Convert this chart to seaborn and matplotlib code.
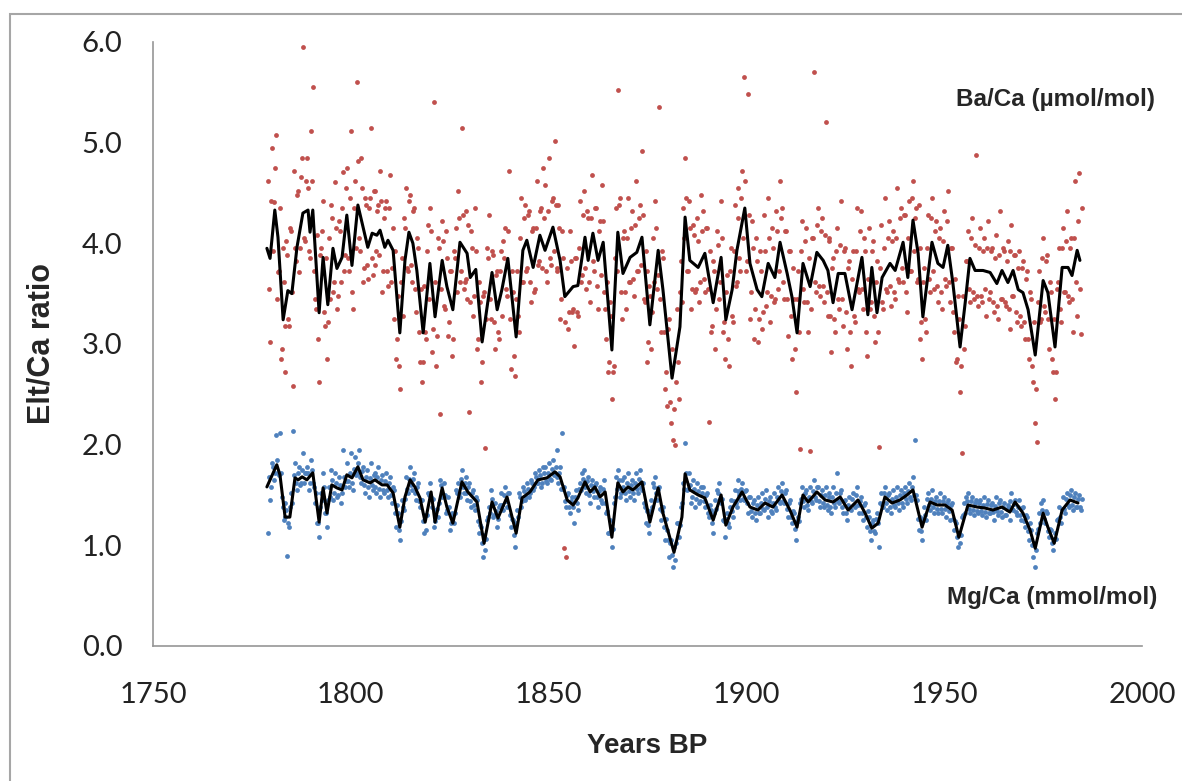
import numpy as np
import pandas as pd
import matplotlib
matplotlib.use("Agg")
import matplotlib.pyplot as plt
from matplotlib.patches import Rectangle
import seaborn as sns

# raw Ba/Ca samples (umol/mol), two per year from 1779.0
ba_raw = [
    4.62, 3.02, 4.95, 4.41, 5.08, 3.71, 4.35, 2.95, 3.62, 2.72, 3.88, 3.18, 4.12, 2.58, 3.95, 4.48, 3.71, 4.66, 5.95, 4.02,
    4.85, 3.92, 5.12, 5.55, 3.45, 4.08, 2.62, 3.95, 4.42, 3.18, 2.85, 4.05, 4.38, 3.52, 4.61, 3.35, 4.22, 3.62, 4.71, 3.88,
    4.75, 3.72, 5.12, 3.35, 4.62, 5.60, 4.05, 4.85, 3.62, 4.45, 3.78, 4.35, 5.15, 3.68, 4.52, 3.92, 4.38, 4.72, 3.52, 4.25,
    4.42, 3.58, 4.68, 3.75, 3.25, 2.85, 3.48, 2.55, 3.85, 4.25, 4.55, 3.72, 4.48, 3.62, 4.35, 3.32, 3.95, 2.82, 2.62, 3.58,
    3.05, 4.18, 4.35, 2.92, 5.40, 2.78, 4.05, 2.30, 4.22, 3.38, 4.12, 3.08, 3.72, 2.88, 3.92, 4.15, 4.52, 3.62, 5.15, 3.55,
    4.32, 3.45, 2.32, 4.12, 3.28, 4.35, 2.95, 3.62, 2.62, 3.48, 1.97, 3.95, 4.28, 3.25, 3.88, 2.95, 3.72, 3.05, 3.92, 4.02,
    4.15, 3.48, 4.72, 2.75, 3.52, 2.68, 3.72, 3.12, 4.45, 3.62, 4.38, 3.75, 4.32, 3.42, 4.15, 3.55, 4.62, 3.82, 4.35, 4.75,
    4.58, 3.62, 4.85, 3.78, 4.45, 5.02, 3.72, 4.38, 3.25, 4.12, 0.97, 0.88, 3.15, 4.12, 3.32, 2.98, 3.85, 3.28, 4.42, 3.68,
    4.52, 3.55, 4.25, 3.42, 4.68, 3.72, 4.35, 3.35, 4.22, 4.58, 3.52, 3.05, 2.72, 3.42, 2.45, 2.78, 4.35, 5.52, 4.45, 3.25,
    4.12, 3.35, 4.45, 3.62, 4.32, 3.48, 4.62, 3.72, 4.38, 4.92, 3.45, 3.92, 2.82, 3.58, 2.95, 4.05, 4.42, 3.55, 5.35, 3.12,
    3.85, 2.55, 2.38, 3.25, 2.21, 2.05, 2.00, 3.35, 2.45, 3.82, 4.35, 4.85, 3.72, 4.42, 3.35, 4.18, 3.52, 4.25, 3.42, 4.48,
    4.32, 3.52, 4.15, 2.22, 3.12, 3.82, 2.95, 4.12, 3.45, 4.42, 3.12, 2.85, 3.68, 2.78, 3.95, 3.22, 4.38, 3.62, 4.55, 3.72,
    4.72, 5.65, 3.72, 5.48, 3.25, 4.22, 3.05, 4.05, 3.02, 3.92, 3.15, 4.28, 3.38, 4.45, 3.22, 4.15, 3.42, 4.32, 3.55, 4.62,
    4.35, 3.45, 4.12, 3.08, 3.92, 2.85, 3.45, 2.52, 3.72, 1.96, 4.22, 3.42, 4.15, 3.12, 1.94, 4.05, 5.70, 3.52, 4.35, 3.48,
    4.25, 3.42, 5.20, 3.28, 4.05, 2.92, 3.85, 3.12, 4.15, 3.35, 4.42, 3.18, 3.95, 2.95, 3.82, 2.78, 3.92, 3.22, 4.35, 3.52,
    4.32, 3.35, 3.92, 2.88, 4.15, 3.42, 4.02, 3.02, 3.82, 1.98, 4.18, 3.35, 4.45, 3.52, 4.22, 3.38, 4.12, 3.45, 4.55, 3.62,
    4.35, 3.62, 4.28, 3.32, 4.42, 3.72, 4.62, 4.25, 3.62, 4.38, 3.05, 2.85, 3.75, 3.12, 4.28, 3.52, 4.45, 3.55, 4.22, 3.42,
    4.15, 3.35, 4.32, 3.58, 4.52, 3.42, 3.95, 3.12, 2.82, 3.48, 2.52, 1.92, 2.95, 3.82, 4.12, 3.42, 4.25, 3.45, 4.88, 3.38,
    4.15, 3.42, 4.05, 3.28, 4.22, 3.52, 3.95, 3.32, 4.08, 3.25, 4.32, 3.45, 3.92, 3.38, 4.02, 3.15, 4.18, 3.48, 3.88, 3.22,
    3.92, 3.18, 3.82, 3.05, 3.72, 2.85, 3.45, 2.62, 2.21, 2.03, 3.72, 3.25, 4.05, 3.32, 3.88, 2.95, 3.52, 2.72, 2.45, 3.55,
    3.95, 3.22, 4.15, 3.52, 4.32, 3.42, 4.05, 3.12, 4.62, 3.28, 4.70, 3.10,
]
# second Ba/Ca run, offset by a quarter year
ba_raw_b = [
    3.55, 4.42, 3.92, 4.75, 3.45, 3.72, 2.85, 3.95, 3.18, 4.02, 3.25, 4.15, 3.52, 4.72, 3.82, 4.52, 3.95, 4.85, 4.05, 4.62,
    4.55, 3.85, 4.62, 3.72, 3.35, 3.05, 3.88, 4.12, 3.32, 3.85, 3.22, 3.45, 4.25, 3.62, 4.15, 3.48, 4.12, 4.35, 3.72, 4.55,
    3.85, 4.45, 3.52, 4.35, 3.95, 4.82, 3.92, 4.55, 3.75, 4.38, 3.65, 4.45, 3.85, 4.52, 3.78, 4.32, 3.88, 4.42, 3.72, 4.35,
    3.72, 4.35, 3.62, 4.15, 3.92, 3.05, 2.78, 3.62, 3.28, 4.15, 3.75, 4.42, 3.78, 4.32, 3.55, 4.05, 3.12, 3.55, 2.82, 3.12,
    3.92, 3.45, 4.12, 3.15, 3.62, 3.08, 3.95, 3.55, 4.02, 3.35, 3.85, 3.22, 3.72, 3.05, 3.85, 3.52, 4.25, 3.72, 4.28, 3.62,
    3.65, 4.18, 3.42, 3.95, 3.48, 3.92, 3.05, 3.42, 2.82, 3.52, 3.25, 3.85, 3.45, 3.92, 3.22, 3.68, 3.12, 3.72, 3.28, 3.85,
    3.55, 4.12, 3.25, 3.72, 2.88, 3.45, 3.28, 4.05, 3.62, 4.25, 3.72, 4.28, 3.62, 4.12, 3.52, 4.15, 3.78, 4.32, 3.75, 4.25,
    3.72, 4.32, 3.85, 4.42, 3.92, 4.38, 3.75, 4.15, 3.45, 3.85, 3.22, 3.75, 3.32, 3.82, 3.35, 3.85, 3.32, 3.95, 3.62, 4.28,
    3.75, 4.32, 3.62, 4.25, 3.82, 4.35, 3.58, 4.12, 3.68, 4.22, 3.35, 3.62, 2.82, 3.28, 2.72, 3.85, 3.72, 4.38, 3.52, 4.05,
    3.52, 4.05, 3.62, 4.15, 3.65, 4.18, 3.72, 4.25, 3.78, 4.28, 3.42, 3.72, 3.02, 3.48, 3.32, 3.62, 4.15, 3.68, 3.45, 3.92,
    3.12, 2.72, 3.15, 2.42, 2.95, 2.35, 2.62, 2.82, 3.52, 3.42, 4.05, 4.45, 3.72, 4.15, 3.55, 4.08, 3.55, 4.02, 3.62, 4.12,
    3.65, 4.15, 3.55, 3.92, 3.18, 3.72, 3.35, 3.98, 3.62, 4.05, 3.22, 3.52, 3.05, 3.72, 3.28, 3.92, 3.58, 4.25, 3.85, 4.45,
    4.05, 4.62, 3.82, 4.28, 3.52, 3.95, 3.35, 3.82, 3.25, 3.72, 3.32, 3.92, 3.52, 4.05, 3.48, 3.95, 3.45, 4.12, 3.72, 4.25,
    3.62, 4.12, 3.45, 3.92, 3.28, 3.75, 2.95, 3.45, 3.12, 3.92, 3.55, 4.02, 3.42, 3.85, 3.35, 4.05, 3.62, 4.18, 3.58, 4.12,
    3.58, 4.08, 3.52, 4.02, 3.28, 3.75, 3.25, 3.92, 3.45, 3.98, 3.45, 3.92, 3.32, 3.75, 3.12, 3.65, 3.28, 3.92, 3.55, 4.12,
    3.55, 4.05, 3.12, 3.65, 3.35, 3.92, 3.28, 3.62, 3.12, 3.75, 3.42, 3.95, 3.55, 4.05, 3.58, 4.02, 3.52, 4.05, 3.65, 4.25,
    3.75, 4.28, 3.52, 4.05, 3.72, 4.45, 3.92, 4.35, 3.65, 3.95, 3.22, 3.62, 3.25, 3.95, 3.65, 4.25, 3.72, 4.12, 3.58, 4.05,
    3.52, 4.02, 3.65, 4.22, 3.62, 3.95, 3.32, 3.65, 2.85, 3.25, 2.78, 3.48, 3.18, 3.82, 3.55, 4.05, 3.52, 3.98, 3.48, 3.95,
    3.48, 3.92, 3.55, 3.95, 3.45, 3.92, 3.42, 3.85, 3.38, 3.88, 3.45, 3.95, 3.42, 3.82, 3.35, 3.92, 3.48, 3.88, 3.32, 3.75,
    3.28, 3.75, 3.22, 3.65, 3.05, 3.52, 2.78, 3.22, 2.55, 3.42, 3.22, 3.85, 3.38, 3.82, 3.25, 3.62, 2.85, 3.25, 2.72, 3.62,
    3.35, 3.95, 3.52, 4.02, 3.48, 3.95, 3.45, 4.05, 3.62, 4.22, 3.55, 4.35,
]

# raw Mg/Ca samples (mmol/mol), same sampling
mg_raw = [
    1.12, 1.45, 1.82, 1.65, 2.10, 1.72, 2.12, 1.48, 1.25, 1.42, 0.89, 1.18, 1.52, 2.14, 1.82, 1.55, 1.78, 1.62, 1.92, 1.72,
    1.78, 1.55, 1.85, 1.62, 1.42, 1.22, 1.08, 1.52, 1.72, 1.32, 1.18, 1.58, 1.75, 1.45, 1.72, 1.48, 1.68, 1.42, 1.95, 1.58,
    1.82, 1.58, 1.92, 1.55, 1.88, 1.72, 1.95, 1.62, 1.78, 1.52, 1.75, 1.48, 1.82, 1.55, 1.72, 1.52, 1.78, 1.48, 1.70, 1.52,
    1.72, 1.48, 1.68, 1.42, 1.55, 1.18, 1.32, 1.05, 1.45, 1.35, 1.68, 1.52, 1.78, 1.55, 1.72, 1.45, 1.62, 1.38, 1.45, 1.12,
    1.15, 1.52, 1.62, 1.38, 1.18, 1.35, 1.28, 1.65, 1.48, 1.62, 1.32, 1.48, 1.15, 1.32, 1.22, 1.55, 1.62, 1.48, 1.75, 1.52,
    1.68, 1.45, 1.62, 1.38, 1.55, 1.35, 1.45, 1.12, 1.18, 0.88, 0.95, 1.25, 1.38, 1.55, 1.28, 1.42, 1.18, 1.38, 1.52, 1.35,
    1.58, 1.38, 1.52, 1.18, 1.25, 0.98, 1.35, 1.52, 1.38, 1.58, 1.45, 1.62, 1.48, 1.65, 1.55, 1.72, 1.62, 1.75, 1.58, 1.78,
    1.78, 1.62, 1.82, 1.65, 1.85, 1.72, 1.95, 1.62, 1.78, 2.12, 1.58, 1.38, 1.52, 1.32, 1.48, 1.22, 1.55, 1.35, 1.62, 1.72,
    1.75, 1.52, 1.68, 1.42, 1.65, 1.48, 1.62, 1.38, 1.58, 1.42, 1.65, 1.32, 1.12, 1.25, 0.98, 1.42, 1.68, 1.75, 1.48, 1.65,
    1.68, 1.45, 1.72, 1.48, 1.65, 1.45, 1.72, 1.52, 1.75, 1.55, 1.42, 1.22, 1.35, 1.12, 1.45, 1.62, 1.68, 1.45, 1.58, 1.25,
    1.38, 1.05, 1.15, 0.88, 1.05, 0.78, 0.85, 1.22, 1.08, 1.38, 1.62, 2.02, 1.55, 1.72, 1.42, 1.65, 1.38, 1.62, 1.42, 1.58,
    1.58, 1.38, 1.52, 1.28, 1.35, 1.12, 1.45, 1.55, 1.62, 1.42, 1.25, 1.08, 1.32, 1.18, 1.45, 1.28, 1.55, 1.38, 1.65, 1.45,
    1.62, 1.45, 1.55, 1.32, 1.48, 1.28, 1.45, 1.25, 1.48, 1.32, 1.52, 1.35, 1.55, 1.28, 1.48, 1.32, 1.52, 1.35, 1.58, 1.42,
    1.62, 1.42, 1.55, 1.28, 1.45, 1.22, 1.32, 1.05, 1.28, 1.42, 1.58, 1.38, 1.55, 1.35, 1.58, 1.42, 1.65, 1.45, 1.58, 1.38,
    1.55, 1.38, 1.58, 1.35, 1.52, 1.32, 1.58, 1.38, 1.72, 1.42, 1.55, 1.32, 1.45, 1.25, 1.48, 1.35, 1.52, 1.38, 1.58, 1.32,
    1.48, 1.25, 1.42, 1.18, 1.28, 1.05, 1.25, 1.12, 1.32, 0.98, 1.52, 1.38, 1.58, 1.35, 1.52, 1.32, 1.55, 1.38, 1.58, 1.35,
    1.55, 1.38, 1.58, 1.42, 1.62, 1.45, 1.68, 2.05, 1.45, 1.15, 1.28, 1.05, 1.38, 1.25, 1.52, 1.35, 1.55, 1.32, 1.48, 1.32,
    1.52, 1.32, 1.48, 1.28, 1.45, 1.25, 1.42, 1.15, 1.22, 0.98, 1.02, 1.28, 1.42, 1.48, 1.52, 1.32, 1.48, 1.30, 1.45, 1.32,
    1.45, 1.30, 1.48, 1.28, 1.45, 1.32, 1.42, 1.25, 1.48, 1.30, 1.45, 1.28, 1.42, 1.30, 1.40, 1.25, 1.52, 1.35, 1.45, 1.30,
    1.45, 1.25, 1.38, 1.18, 1.28, 1.05, 1.15, 0.88, 0.78, 1.12, 1.32, 1.42, 1.45, 1.22, 1.32, 1.08, 1.15, 0.95, 1.12, 1.25,
    1.38, 1.22, 1.48, 1.32, 1.52, 1.38, 1.55, 1.35, 1.52, 1.38, 1.50, 1.35,
]
# second Mg/Ca run, offset by a quarter year
mg_raw_b = [
    1.68, 1.58, 1.78, 1.72, 1.85, 1.70, 1.72, 1.38, 1.28, 1.35, 1.22, 1.38, 1.42, 1.70, 1.62, 1.72, 1.60, 1.75, 1.62, 1.72,
    1.72, 1.62, 1.75, 1.58, 1.52, 1.22, 1.38, 1.45, 1.58, 1.32, 1.45, 1.48, 1.65, 1.52, 1.62, 1.50, 1.60, 1.52, 1.68, 1.64,
    1.64, 1.72, 1.62, 1.76, 1.70, 1.82, 1.68, 1.74, 1.60, 1.68, 1.58, 1.67, 1.60, 1.70, 1.58, 1.68, 1.56, 1.65, 1.55, 1.64,
    1.55, 1.62, 1.50, 1.58, 1.32, 1.40, 1.15, 1.24, 1.38, 1.46, 1.56, 1.66, 1.60, 1.66, 1.52, 1.58, 1.44, 1.45, 1.24, 1.30,
    1.30, 1.50, 1.48, 1.46, 1.24, 1.36, 1.42, 1.60, 1.50, 1.50, 1.35, 1.38, 1.22, 1.30, 1.32, 1.52, 1.52, 1.66, 1.58, 1.62,
    1.52, 1.58, 1.44, 1.52, 1.40, 1.48, 1.24, 1.20, 1.02, 1.10, 1.06, 1.28, 1.32, 1.46, 1.30, 1.34, 1.26, 1.40, 1.40, 1.50,
    1.44, 1.52, 1.30, 1.26, 1.10, 1.22, 1.28, 1.48, 1.44, 1.54, 1.48, 1.56, 1.52, 1.62, 1.58, 1.68, 1.62, 1.70, 1.62, 1.72,
    1.64, 1.72, 1.66, 1.76, 1.70, 1.78, 1.68, 1.72, 1.56, 1.56, 1.44, 1.50, 1.38, 1.44, 1.38, 1.48, 1.42, 1.56, 1.55, 1.66,
    1.58, 1.64, 1.50, 1.60, 1.54, 1.60, 1.48, 1.54, 1.45, 1.56, 1.42, 1.34, 1.12, 1.14, 1.16, 1.48, 1.56, 1.65, 1.52, 1.58,
    1.52, 1.62, 1.54, 1.60, 1.52, 1.62, 1.56, 1.66, 1.58, 1.62, 1.38, 1.34, 1.20, 1.34, 1.38, 1.58, 1.52, 1.56, 1.36, 1.34,
    1.18, 1.26, 1.05, 1.02, 0.90, 0.98, 1.02, 1.22, 1.20, 1.42, 1.56, 1.72, 1.56, 1.60, 1.48, 1.56, 1.46, 1.54, 1.44, 1.52,
    1.44, 1.50, 1.32, 1.40, 1.22, 1.32, 1.36, 1.52, 1.46, 1.46, 1.24, 1.26, 1.22, 1.38, 1.34, 1.44, 1.42, 1.54, 1.50, 1.56,
    1.46, 1.54, 1.42, 1.48, 1.34, 1.42, 1.32, 1.40, 1.32, 1.42, 1.36, 1.46, 1.38, 1.44, 1.34, 1.42, 1.38, 1.48, 1.44, 1.54,
    1.44, 1.52, 1.36, 1.42, 1.28, 1.34, 1.16, 1.24, 1.24, 1.46, 1.44, 1.52, 1.40, 1.48, 1.44, 1.54, 1.48, 1.58, 1.44, 1.50,
    1.42, 1.50, 1.40, 1.48, 1.38, 1.48, 1.42, 1.52, 1.44, 1.52, 1.38, 1.44, 1.32, 1.40, 1.36, 1.46, 1.40, 1.50, 1.40, 1.44,
    1.32, 1.40, 1.28, 1.34, 1.14, 1.22, 1.14, 1.26, 1.22, 1.42, 1.40, 1.52, 1.42, 1.50, 1.38, 1.46, 1.40, 1.48, 1.42, 1.50,
    1.42, 1.52, 1.46, 1.54, 1.48, 1.58, 1.50, 1.50, 1.26, 1.26, 1.14, 1.26, 1.30, 1.46, 1.40, 1.46, 1.38, 1.44, 1.36, 1.44,
    1.36, 1.44, 1.36, 1.42, 1.34, 1.40, 1.26, 1.24, 1.08, 1.12, 1.10, 1.30, 1.32, 1.44, 1.36, 1.44, 1.35, 1.42, 1.34, 1.42,
    1.34, 1.40, 1.33, 1.41, 1.32, 1.40, 1.33, 1.39, 1.34, 1.42, 1.33, 1.38, 1.30, 1.36, 1.38, 1.44, 1.36, 1.41, 1.33, 1.38,
    1.30, 1.37, 1.24, 1.30, 1.14, 1.22, 1.00, 1.02, 0.95, 1.16, 1.22, 1.35, 1.26, 1.34, 1.14, 1.16, 1.02, 1.06, 1.06, 1.26,
    1.28, 1.36, 1.36, 1.46, 1.40, 1.50, 1.40, 1.48, 1.38, 1.46, 1.38, 1.46,
]

# running mean curves
ba_line_years = [1778.8, 1779.6, 1780.8, 1781.6, 1782.9, 1784.1, 1785.1, 1786.4, 1787.9, 1789.2, 1789.7, 1790.4,
                 1792.0, 1793.0, 1794.2, 1795.5, 1796.5, 1797.8, 1799.0, 1800.3, 1801.8, 1803.1, 1804.3, 1805.4,
                 1806.6, 1807.4, 1808.6, 1809.4, 1810.7, 1812.4, 1813.7, 1814.7, 1815.7, 1816.7, 1818.3, 1820.0,
                 1821.3, 1823.1, 1824.3, 1825.8, 1827.6, 1829.4, 1830.2, 1831.6, 1833.2, 1835.7, 1837.0, 1838.2,
                 1839.7, 1841.8, 1843.5, 1844.5, 1846.1, 1847.8, 1849.1, 1851.1, 1852.9, 1854.1, 1856.2, 1857.4,
                 1859.2, 1860.0, 1861.2, 1862.5, 1863.8, 1866.0, 1867.5, 1868.8, 1870.6, 1872.3, 1873.6, 1875.6,
                 1877.7, 1878.9, 1881.2, 1883.2, 1884.5, 1885.7, 1887.8, 1889.5, 1891.6, 1893.6, 1894.8, 1896.4,
                 1897.6, 1899.6, 1900.9, 1902.7, 1903.9, 1905.5, 1907.2, 1908.5, 1910.3, 1911.5, 1912.8, 1914.3,
                 1916.1, 1917.8, 1919.4, 1920.6, 1921.9, 1923.2, 1924.9, 1926.7, 1929.2, 1930.7, 1931.7, 1933.0,
                 1934.3, 1936.3, 1937.6, 1939.6, 1940.8, 1942.1, 1943.4, 1944.6, 1946.9, 1948.4, 1949.7, 1950.9,
                 1952.2, 1954.0, 1955.3, 1956.5, 1957.8, 1959.8, 1961.6, 1963.3, 1964.6, 1966.1, 1967.4, 1968.7,
                 1969.9, 1971.2, 1973.0, 1975.0, 1976.2, 1978.0, 1979.8, 1981.3, 1982.3, 1983.6, 1984.3]
ba_line_vals = [3.95, 3.85, 4.33, 4.06, 3.24, 3.53, 3.50, 3.96, 4.30, 4.33, 4.11, 4.33,
                3.31, 3.86, 3.39, 3.95, 3.75, 3.86, 4.28, 3.78, 4.38, 4.16, 3.96, 4.10,
                4.08, 4.13, 3.96, 4.03, 3.93, 3.11, 3.83, 4.11, 4.00, 3.73, 3.11, 3.80,
                3.27, 3.83, 3.57, 3.34, 4.01, 3.90, 3.66, 3.74, 3.02, 3.71, 3.34, 3.54,
                3.85, 3.07, 3.93, 4.03, 3.76, 4.08, 3.93, 4.16, 3.83, 3.47, 3.57, 3.58,
                4.06, 3.83, 4.10, 3.83, 4.01, 2.94, 4.11, 3.70, 3.86, 3.91, 4.06, 3.19,
                3.93, 3.54, 2.66, 3.17, 4.26, 3.83, 3.76, 3.90, 3.41, 3.86, 3.24, 3.54,
                3.93, 4.35, 3.80, 3.54, 3.47, 3.80, 3.66, 4.01, 3.70, 3.47, 3.11, 3.80,
                3.57, 3.91, 3.83, 3.73, 3.41, 3.70, 3.70, 3.34, 3.86, 3.29, 3.76, 3.31,
                3.66, 3.80, 3.73, 4.01, 3.66, 4.23, 3.90, 3.27, 4.01, 3.80, 3.76, 3.98,
                3.60, 2.97, 3.41, 3.85, 3.73, 3.73, 3.71, 3.60, 3.73, 3.61, 3.73, 3.54,
                3.51, 3.34, 2.89, 3.63, 3.51, 2.97, 3.76, 3.76, 3.68, 3.93, 3.83]

mg_line_years = [1778.8, 1779.6, 1781.3, 1782.1, 1783.4, 1784.6, 1785.9, 1786.7, 1787.7, 1788.9, 1790.4, 1792.0,
                 1793.0, 1794.0, 1795.2, 1796.5, 1797.8, 1799.0, 1800.3, 1801.8, 1803.1, 1804.9, 1806.1, 1807.9,
                 1809.2, 1810.7, 1812.4, 1813.7, 1815.0, 1816.2, 1817.5, 1818.8, 1820.3, 1821.3, 1823.1, 1824.3,
                 1825.8, 1828.1, 1829.6, 1831.9, 1833.7, 1835.7, 1837.2, 1839.5, 1841.8, 1843.3, 1845.3, 1847.3,
                 1849.6, 1851.6, 1852.9, 1854.7, 1856.2, 1857.4, 1859.2, 1860.5, 1861.7, 1863.0, 1864.3, 1866.0,
                 1867.5, 1868.8, 1870.1, 1871.3, 1873.6, 1875.6, 1877.7, 1878.9, 1881.7, 1883.7, 1884.5, 1885.7,
                 1887.8, 1889.5, 1891.6, 1893.6, 1894.8, 1896.6, 1898.9, 1900.9, 1902.9, 1904.7, 1906.7, 1909.0,
                 1911.0, 1912.8, 1914.3, 1915.6, 1917.8, 1919.9, 1921.9, 1923.7, 1925.7, 1928.2, 1930.0, 1931.7,
                 1933.3, 1935.0, 1936.8, 1938.8, 1940.6, 1942.1, 1944.4, 1946.4, 1948.2, 1950.2, 1952.0, 1953.7,
                 1956.0, 1958.3, 1960.3, 1962.3, 1964.6, 1966.6, 1967.9, 1969.9, 1971.7, 1973.0, 1975.0, 1976.2,
                 1977.8, 1979.8, 1981.8, 1983.8]
mg_line_vals = [1.58, 1.65, 1.80, 1.70, 1.28, 1.28, 1.67, 1.65, 1.68, 1.65, 1.72, 1.23,
                1.57, 1.32, 1.60, 1.57, 1.55, 1.70, 1.67, 1.78, 1.65, 1.62, 1.65, 1.60,
                1.60, 1.52, 1.18, 1.48, 1.65, 1.58, 1.47, 1.23, 1.53, 1.23, 1.57, 1.38,
                1.22, 1.63, 1.53, 1.43, 1.02, 1.43, 1.27, 1.48, 1.12, 1.47, 1.53, 1.65,
                1.67, 1.73, 1.68, 1.45, 1.40, 1.47, 1.63, 1.53, 1.58, 1.48, 1.53, 1.08,
                1.62, 1.53, 1.58, 1.55, 1.63, 1.23, 1.57, 1.32, 0.93, 1.28, 1.71, 1.55,
                1.50, 1.47, 1.25, 1.50, 1.20, 1.38, 1.53, 1.38, 1.35, 1.42, 1.38, 1.50,
                1.35, 1.18, 1.50, 1.43, 1.53, 1.45, 1.43, 1.48, 1.35, 1.45, 1.32, 1.17,
                1.22, 1.48, 1.42, 1.45, 1.50, 1.55, 1.18, 1.43, 1.40, 1.40, 1.35, 1.08,
                1.40, 1.38, 1.37, 1.35, 1.38, 1.33, 1.43, 1.32, 1.15, 0.97, 1.32, 1.18,
                1.02, 1.35, 1.45, 1.42]

ba_years = 1779.0 + 0.5 * np.arange(len(ba_raw))
ba_years_b = 1779.25 + 0.5 * np.arange(len(ba_raw_b))
mg_years = 1779.0 + 0.5 * np.arange(len(mg_raw))
mg_years_b = 1779.25 + 0.5 * np.arange(len(mg_raw_b))

sns.set_style("white")
plt.rcParams["font.family"] = ["Lato", "DejaVu Sans"]

fig = plt.figure(figsize=(11.82, 7.81), dpi=100)
ax = fig.add_axes([0.1294, 0.1729, 0.8368, 0.7734])

# outer chart frame
fig.patches.append(Rectangle((10 / 1182, -0.1), 1.2, 1 - 14 / 781 + 0.1, transform=fig.transFigure,
                             fill=False, edgecolor="#a6a6a6", linewidth=1.5, zorder=0))

red = "#c0504d"
blue = "#4f81bd"
sns.scatterplot(x=np.concatenate([ba_years, ba_years_b]), y=ba_raw + ba_raw_b,
                ax=ax, color=red, s=12, linewidth=0)
sns.scatterplot(x=np.concatenate([mg_years, mg_years_b]), y=mg_raw + mg_raw_b,
                ax=ax, color=blue, s=12, linewidth=0)
sns.lineplot(x=ba_line_years, y=ba_line_vals, ax=ax, color="black", linewidth=2.2, sort=False, estimator=None)
sns.lineplot(x=mg_line_years, y=mg_line_vals, ax=ax, color="black", linewidth=2.2, sort=False, estimator=None)

ax.set_xlim(1750, 2000)
ax.set_ylim(0, 6)
ax.set_xticks([1750, 1800, 1850, 1900, 1950, 2000])
ax.set_yticks(np.arange(0, 6.5, 1.0))
ax.yaxis.set_major_formatter(matplotlib.ticker.FormatStrFormatter("%.1f"))

for side in ["top", "right"]:
    ax.spines[side].set_visible(False)
for side in ["left", "bottom"]:
    ax.spines[side].set_color("#969696")
    ax.spines[side].set_linewidth(1.2)
ax.tick_params(axis="both", which="major", direction="out", length=9, width=1.2, color="#969696",
               labelsize=21, labelcolor="#222222")
ax.tick_params(axis="x", pad=17)
ax.tick_params(axis="y", pad=13)

ax.set_xlabel("Years BP", labelpad=18, family=["Liberation Sans", "DejaVu Sans"],
              fontweight="bold", fontsize=20)
ax.set_ylabel("Elt/Ca ratio", labelpad=18, family=["Liberation Sans", "DejaVu Sans"],
              fontweight="bold", fontsize=22)

ann_font = dict(family=["Liberation Sans", "DejaVu Sans"], fontweight="bold", fontsize=17.5)
ax.text(1.013, 0.904, "Ba/Ca (\u00b5mol/mol)", transform=ax.transAxes, ha="right", va="center", **ann_font)
ax.text(1.016, 0.081, "Mg/Ca (mmol/mol)", transform=ax.transAxes, ha="right", va="center", **ann_font)

fig.savefig("out.png", dpi=100)
